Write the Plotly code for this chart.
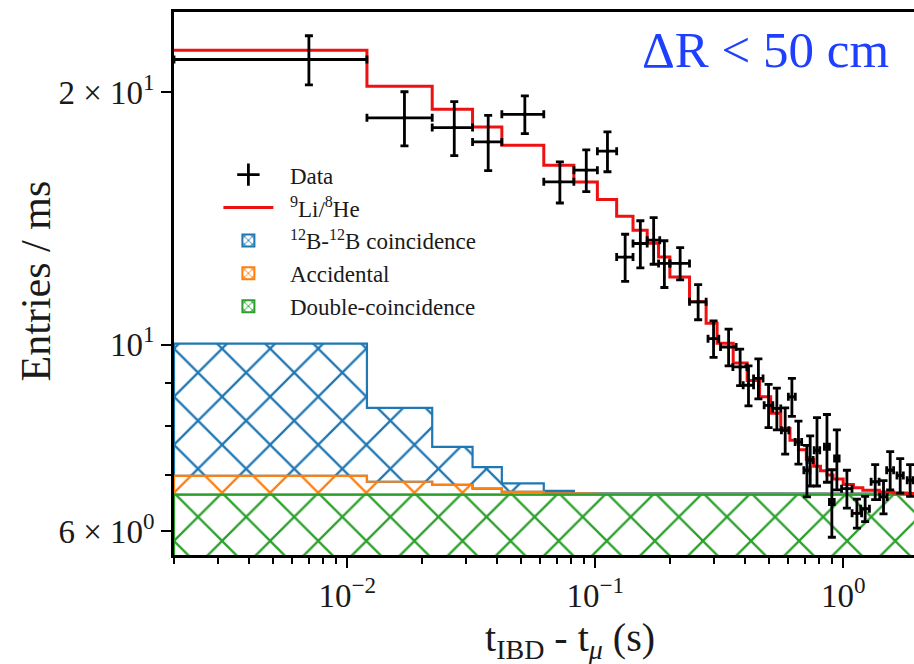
import numpy as np
import plotly.graph_objects as go

# ---------------- data ----------------
# Fitted 9Li/8He (total) step histogram
fit_edges = [0.002, 0.012, 0.022, 0.032, 0.042, 0.062, 0.082, 0.102, 0.122, 0.142,
             0.162, 0.18, 0.2, 0.24, 0.28, 0.31, 0.36, 0.41, 0.46, 0.51, 0.56, 0.61,
             0.66, 0.71, 0.76, 0.81, 0.86, 0.91, 1.0, 1.1, 1.2, 1.4, 1.6, 1.8, 2.0]
fit_values = [22.42, 20.32, 19.07, 18.17, 17.28, 16.36, 15.62, 14.89, 14.22, 13.69,
              13.21, 12.72, 12.04, 11.25, 10.61, 10.04, 9.51, 9.07, 8.67, 8.29, 7.95,
              7.70, 7.50, 7.30, 7.17, 7.08, 7.00, 6.92, 6.82, 6.76, 6.71, 6.68, 6.66, 6.65]

# Background components (stacked)
bg_edges = [0.002, 0.012, 0.022, 0.032, 0.042, 0.062, 0.082, 0.102, 2.0]
double_coinc = [6.63, 6.63, 6.63, 6.63, 6.63, 6.63, 6.63, 6.63]
accidental = [0.35, 0.24, 0.18, 0.11, 0.05, 0.03, 0.02, 0.015]
b12_coinc = [3.05, 1.54, 0.75, 0.41, 0.16, 0.04, 0.01, 0.005]

# Data points
data_t = [0.007, 0.017, 0.027, 0.037, 0.052, 0.072, 0.092, 0.112, 0.132, 0.152,
          0.172, 0.19, 0.22, 0.26, 0.30, 0.345, 0.384, 0.415, 0.455, 0.50,
          0.54, 0.5835, 0.621, 0.66, 0.714, 0.736, 0.784, 0.86, 0.90, 0.943,
          1.035, 1.136, 1.226, 1.346, 1.454, 1.547, 1.698, 1.862]
data_y = [21.86, 18.63, 18.14, 17.44, 18.81, 15.63, 16.14, 17.00, 12.72, 13.20,
          13.32, 12.50, 12.50, 11.25, 10.17, 9.94, 9.41, 8.95, 9.12, 8.47,
          8.40, 7.91, 8.67, 7.66, 7.09, 7.29, 7.49, 7.56, 6.50, 7.32,
          6.74, 6.30, 6.38, 6.87, 6.59, 7.09, 6.99, 6.90]
data_yerr = [1.47, 1.38, 1.34, 1.32, 0.97, 0.88, 0.92, 0.93, 0.82, 0.85,
             0.85, 0.80, 0.55, 0.54, 0.51, 0.50, 0.47, 0.49, 0.50, 0.50,
             0.48, 0.50, 0.45, 0.45, 0.50, 0.50, 0.70, 0.70, 0.60, 0.60,
             0.35, 0.25, 0.22, 0.33, 0.30, 0.37, 0.33, 0.30]
data_xerr = [0.005, 0.005, 0.005, 0.005, 0.01, 0.01, 0.01, 0.01, 0.01, 0.01,
             0.01, 0.01, 0.02, 0.02, 0.015, 0.025, 0.025, 0.02, 0.02, 0.02,
             0.02, 0.02, 0.02, 0.02, 0.02, 0.02, 0.02, 0.02, 0.02, 0.02,
             0.05, 0.05, 0.05, 0.05, 0.05, 0.05, 0.05, 0.05]

x_tickvals = [0.01, 0.1, 1]
x_ticktext = ["10<sup>\u22122</sup>", "10<sup>\u22121</sup>", "10<sup>0</sup>"]
y_tickvals = [6, 10, 20]
y_ticktext = ["6 \u00d7 10<sup>0</sup>", "10<sup>1</sup>", "2 \u00d7 10<sup>1</sup>"]

FONT = "Liberation Serif"
TXT = "#1a1a1a"
BLUE, ORANGE, GREEN = "#1f77b4", "#ff7f0e", "#2ca02c"
PAD = "\u00a0\u00a0"


def step(vals):
    return list(vals) + [vals[-1]]


def band(edges, top, bottom):
    """closed polygon of a histogram band between two step curves"""
    xs, ys = [], []
    for i in range(len(top)):
        xs += [edges[i], edges[i + 1]]
        ys += [top[i], top[i]]
    for i in reversed(range(len(bottom))):
        xs += [edges[i + 1], edges[i]]
        ys += [bottom[i], bottom[i]]
    xs.append(xs[0])
    ys.append(ys[0])
    return xs, ys


def hatch(color, size=34, solidity=0.13):
    return dict(shape="x", fgcolor=color, fgopacity=1.0,
                bgcolor="rgba(255,255,255,0)", size=size, solidity=solidity)


fig = go.Figure()

cum1 = np.array(double_coinc)
cum2 = cum1 + np.array(accidental)
cum3 = cum2 + np.array(b12_coinc)
floor = np.full(len(double_coinc), 1.0)

bands = [("<sup>12</sup>B-<sup>12</sup>B coincidence", cum3, cum2, BLUE, 3),
         ("Accidental", cum2, cum1, ORANGE, 4),
         ("Double-coincidence", cum1, floor, GREEN, 5)]
for name, top, bottom, color, rank in bands:
    bx, by = band(bg_edges, top, bottom)
    fig.add_trace(go.Scatter(x=bx, y=by, mode="lines", name=name, showlegend=False,
                             line=dict(color=color, width=2.2),
                             fill="toself", fillcolor="rgba(255,255,255,0)",
                             fillpattern=hatch(color), hoverinfo="skip"))
    # legend swatch (hatched box)
    fig.add_trace(go.Bar(x=[None], y=[None], name=PAD + name, legendrank=rank,
                         marker=dict(color="rgba(255,255,255,0)",
                                     line=dict(color=color, width=2),
                                     pattern=hatch(color, size=7, solidity=0.3))))

fig.add_trace(go.Scatter(x=fit_edges, y=step(fit_values), mode="lines",
                         name=PAD + "<sup>9</sup>Li/<sup>8</sup>He", legendrank=2,
                         line=dict(color="#ee1111", width=3, shape="hv")))

fig.add_trace(go.Scatter(x=data_t, y=data_y, mode="markers", name="Data",
                         showlegend=False,
                         marker=dict(color="black", size=4),
                         error_y=dict(type="data", array=data_yerr, color="black",
                                      thickness=2.8, width=4),
                         error_x=dict(type="data", array=data_xerr, color="black",
                                      thickness=2.8, width=4)))
# legend entry for data
fig.add_trace(go.Scatter(x=[None], y=[None], mode="markers", name=PAD + "Data",
                         legendrank=1,
                         marker=dict(symbol="cross-thin", size=16,
                                     line=dict(width=2.8, color="black"))))

minor_x = [m * d for d in (0.001, 0.01, 0.1) for m in range(2, 10)]

fig.update_layout(
    width=914, height=664,
    margin=dict(l=174, r=0, t=12, b=109),
    plot_bgcolor="white", paper_bgcolor="white",
    font=dict(family=FONT, color=TXT),
    showlegend=True,
    legend=dict(x=0.06, y=0.74, xanchor="left", yanchor="top",
                bgcolor="rgba(0,0,0,0)", font=dict(size=23, family=FONT, color=TXT),
                traceorder="normal", itemwidth=50),
    xaxis=dict(type="log", range=[np.log10(0.002), np.log10(1.93)],
               showline=True, linecolor="black", linewidth=2.5, mirror=True,
               ticks="outside", ticklen=10, tickwidth=2, tickcolor="black",
               tickvals=x_tickvals, ticktext=x_ticktext,
               tickfont=dict(size=33, family=FONT, color=TXT),
               minor=dict(ticks="outside", ticklen=6, tickwidth=1.5,
                          tickcolor="black", tickvals=minor_x),
               showgrid=False, zeroline=False),
    yaxis=dict(type="log", range=[np.log10(5.62), np.log10(24.9)],
               showline=True, linecolor="black", linewidth=2.5, mirror=False,
               ticks="outside", ticklen=10, tickwidth=2, tickcolor="black",
               tickvals=y_tickvals, ticktext=y_ticktext,
               tickfont=dict(size=33, family=FONT, color=TXT),
               minor=dict(ticks="outside", ticklen=6, tickwidth=1.5,
                          tickcolor="black", tickvals=[7, 8, 9]),
               showgrid=False, zeroline=False),
    annotations=[
        dict(text="t<sub>IBD</sub> - t<sub><i>\u03bc</i></sub> (s)", xref="paper",
             yref="paper", x=0.535, y=-0.156, xanchor="center", yanchor="middle",
             showarrow=False, font=dict(size=40, family=FONT, color=TXT)),
        dict(text="Entries / ms", xref="paper", yref="paper", x=-0.187, y=0.505,
             xanchor="center", yanchor="middle", textangle=-90, showarrow=False,
             font=dict(size=42, family=FONT, color=TXT)),
        dict(text="\u0394R < 50 cm", xref="paper", yref="paper", x=0.799, y=0.93,
             xanchor="center", yanchor="middle", showarrow=False,
             font=dict(size=51, family=FONT, color="#1f3fff")),
    ],
)

fig.write_html("out.html")
